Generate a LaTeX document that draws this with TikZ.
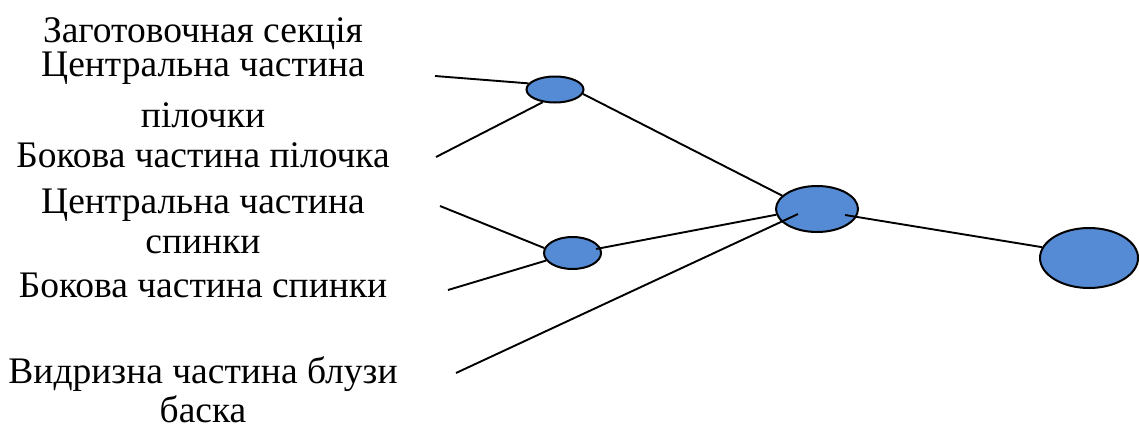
\documentclass[tikz,border=0pt]{standalone}
\usepackage{fontspec}
\setmainfont{Liberation Serif}
\usetikzlibrary{shapes.geometric}
\definecolor{nodefill}{RGB}{84,139,212}
\begin{document}
\begin{tikzpicture}[x=1pt,y=-1pt,
  blob/.style={ellipse,draw=black,line width=2pt,fill=nodefill,inner sep=0pt},
  lbl/.style={anchor=base,font=\fontsize{37.5}{44}\selectfont,inner sep=0pt},
  link/.style={line width=1.9pt}]
\useasboundingbox (0,0) rectangle (1139,428);
% ellipses
\node[blob,minimum width=57pt,minimum height=26pt] (A) at (555,89.5) {};
\node[blob,minimum width=57pt,minimum height=32pt] (B) at (572.5,253) {};
\node[blob,minimum width=82pt,minimum height=46pt] (C) at (817,209) {};
\node[blob,minimum width=98pt,minimum height=60pt] (D) at (1089,258) {};
% free ends
\coordinate (e1) at (435,76);
\coordinate (e2) at (436,157);
\coordinate (e3) at (440,206);
\coordinate (e4) at (448,290);
\coordinate (e5) at (456,373);
\coordinate (bIn) at (596,249);
\coordinate (cIn) at (798,214);
\coordinate (cIn2) at (845,215);
% connectors
\draw[link] (e1) -- (A.167);
\draw[link] (e2) -- (A.226);
\draw[link] (A.-9) -- (C.159);
\draw[link] (e3) -- (B.170);
\draw[link] (e4) -- (B.196);
\draw[link] (bIn) -- (C.188);
\draw[link] (e5) -- (cIn);
\draw[link] (cIn2) -- (D.167);
% labels
\node[lbl] (t1) at (203,42) {Заготовочная секція};
\node[lbl] (t2) at (203,77) {Центральна частина};
\node[lbl] (t3) at (203,127) {пілочки};
\node[lbl] (t4) at (203,167) {Бокова частина пілочка};
\node[lbl] (t5) at (203,213) {Центральна частина};
\node[lbl] (t6) at (203,253) {спинки};
\node[lbl] (t7) at (203,297) {Бокова частина спинки};
\node[lbl] (t8) at (203,383) {Видризна частина блузи};
\node[lbl] (t9) at (203,422) {баска};
\end{tikzpicture}
\end{document}
